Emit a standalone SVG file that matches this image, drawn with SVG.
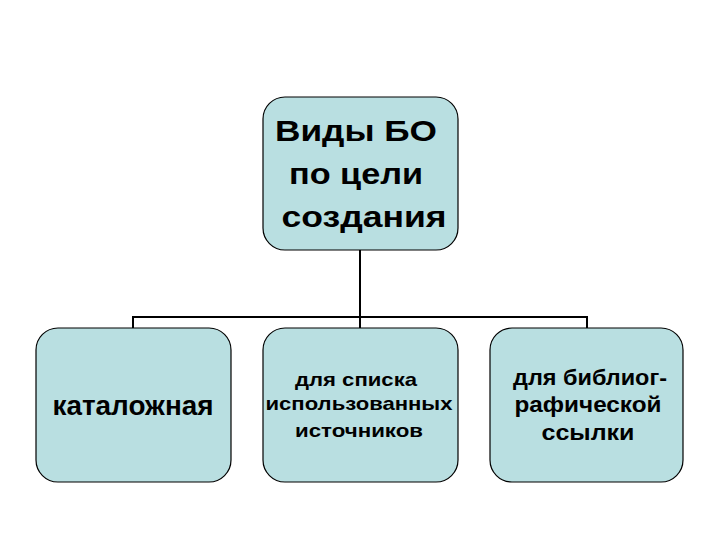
<svg xmlns="http://www.w3.org/2000/svg" width="720" height="540" viewBox="0 0 720 540">
<style>
.box{fill:#b9dfe1;stroke:#000;stroke-width:1.2}
.t{font-family:"Liberation Sans",Arial,sans-serif;font-weight:bold;fill:#000;text-anchor:middle}
.big{font-size:30px}
.mid{font-size:22px}
.cat{font-size:27px}
.sm{font-size:19px}
.conn{fill:none;stroke:#000;stroke-width:2}
</style>
<rect width="720" height="540" fill="#fff"/>
<g id="connectors">
<path class="conn" d="M360 250 V317"/>
<path class="conn" d="M133 317 H587"/>
<path class="conn" d="M133 316 V328"/>
<path class="conn" d="M360 316 V328"/>
<path class="conn" d="M587 316 V328"/>
</g>
<g id="root">
<rect class="box" x="263" y="97" width="195" height="153" rx="22"/>
<text class="t big" x="356" y="141" textLength="162" lengthAdjust="spacingAndGlyphs">Виды БО</text>
<text class="t big" x="356" y="184" textLength="134" lengthAdjust="spacingAndGlyphs">по цели</text>
<text class="t big" x="364" y="227" textLength="165" lengthAdjust="spacingAndGlyphs">создания</text>
</g>
<g id="catalog">
<rect class="box" x="36" y="328" width="195" height="154" rx="22"/>
<text class="t cat" x="133" y="415" textLength="161" lengthAdjust="spacingAndGlyphs">каталожная</text>
</g>
<g id="list">
<rect class="box" x="263" y="328" width="195" height="154" rx="22"/>
<text class="t sm" x="356" y="386" textLength="122" lengthAdjust="spacingAndGlyphs">для списка</text>
<text class="t sm" x="359" y="410" textLength="187" lengthAdjust="spacingAndGlyphs">использованных</text>
<text class="t sm" x="359" y="437" textLength="128" lengthAdjust="spacingAndGlyphs">источников</text>
</g>
<g id="ref">
<rect class="box" x="490" y="328" width="193" height="154" rx="22"/>
<text class="t mid" x="590" y="385" textLength="154" lengthAdjust="spacingAndGlyphs">для библиог-</text>
<text class="t mid" x="588" y="412" textLength="147" lengthAdjust="spacingAndGlyphs">рафической</text>
<text class="t mid" x="588" y="440" textLength="93" lengthAdjust="spacingAndGlyphs">ссылки</text>
</g>
</svg>
